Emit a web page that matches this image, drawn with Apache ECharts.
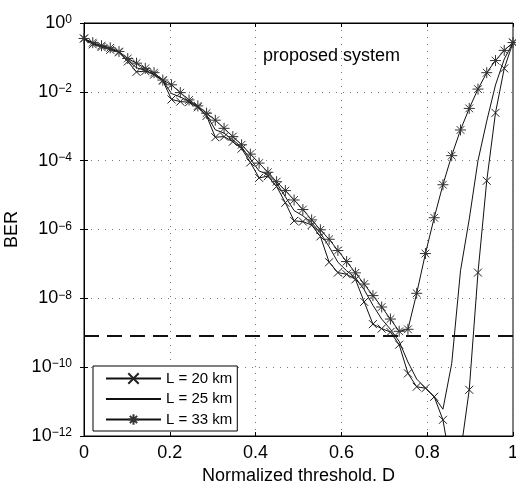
<!DOCTYPE html>
<html><head><meta charset="utf-8">
<script src="https://cdn.jsdelivr.net/npm/echarts@6/dist/echarts.min.js"></script>
<style>html,body{margin:0;padding:0;background:#fff}#c{width:516px;height:481px}</style>
</head><body><div id="c"></div>
<script>
// Normalized threshold D (50 points from 0 to 1)
const thresholdD = [0, 0.0204, 0.0408, 0.0612, 0.0816, 0.1020, 0.1224, 0.1429, 0.1633, 0.1837,
  0.2041, 0.2245, 0.2449, 0.2653, 0.2857, 0.3061, 0.3265, 0.3469, 0.3673, 0.3878,
  0.4082, 0.4286, 0.4490, 0.4694, 0.4898, 0.5102, 0.5306, 0.5510, 0.5714, 0.5918,
  0.6122, 0.6327, 0.6531, 0.6735, 0.6939, 0.7143, 0.7347, 0.7551, 0.7755, 0.7959,
  0.8163, 0.8367, 0.8571, 0.8776, 0.8980, 0.9184, 0.9388, 0.9592, 0.9796, 1.0];

const ber20 = [3.55e-1, 2.4e-1, 2.0e-1, 1.66e-1, 1.41e-1, 7.6e-2, 3.8e-2, 4.0e-2, 3.16e-2, 2.1e-2,
  6.0e-3, 5.2e-3, 5.0e-3, 3.55e-3, 2.0e-3, 4.8e-4, 5.0e-4, 3.55e-4, 2.24e-4, 8.9e-5,
  3.16e-5, 3.55e-5, 1.78e-5, 6.0e-6, 1.78e-6, 1.7e-6, 1.35e-6, 6.3e-7, 1.12e-7, 5.6e-8,
  5.0e-8, 3.55e-8, 7.9e-9, 1.78e-9, 1.32e-9, 1.05e-9, 4.5e-10, 6.6e-11, 2.7e-11, 2.45e-11,
  1.38e-11, 2.95e-12, 1e-13, 3.16e-13, 2.2e-11, 5.6e-8, 2.6e-5, 2.45e-3, 4.8e-2, 2.7e-1];

const ber25 = [3.55e-1, 2.5e-1, 2.1e-1, 1.78e-1, 1.41e-1, 8.3e-2, 5.0e-2, 4.2e-2, 3.3e-2, 2.1e-2,
  8.9e-3, 7.1e-3, 5.2e-3, 3.7e-3, 2.1e-3, 7.9e-4, 6.3e-4, 4.0e-4, 2.5e-4, 1.12e-4,
  5.0e-5, 4.0e-5, 2.24e-5, 8.9e-6, 3.55e-6, 2.5e-6, 1.58e-6, 7.9e-7, 3.16e-7, 1.12e-7,
  6.3e-8, 4.0e-8, 1.78e-8, 6.3e-9, 2.5e-9, 1.26e-9, 5.6e-10, 1.41e-10, 4.5e-11, 2.5e-11,
  1.38e-11, 6.0e-12, 1.26e-10, 6.3e-8, 2.0e-6, 1.0e-4, 1.41e-3, 1.58e-2, 8.9e-2, 2.7e-1];

const ber33 = [3.55e-1, 2.69e-1, 2.19e-1, 1.9e-1, 1.48e-1, 9.3e-2, 6.8e-2, 4.8e-2, 3.6e-2, 2.2e-2,
  1.6e-2, 9.5e-3, 5.8e-3, 3.9e-3, 2.4e-3, 1.5e-3, 8.7e-4, 5.0e-4, 2.9e-4, 1.55e-4,
  8.5e-5, 4.6e-5, 2.45e-5, 1.35e-5, 7.2e-6, 3.8e-6, 1.9e-6, 9.8e-7, 5.2e-7, 2.45e-7,
  1.17e-7, 5.5e-8, 2.6e-8, 1.2e-8, 5.6e-9, 2.5e-9, 1.1e-9, 1.26e-9, 1.4e-8, 2.0e-7,
  2.2e-6, 2.0e-5, 1.4e-4, 7.8e-4, 3.3e-3, 1.2e-2, 3.6e-2, 8.1e-2, 1.6e-1, 2.7e-1];

const berLimit = 8e-10;
const berLimitD = [0, 1];
const seriesNames = ['L = 20 km', 'L = 25 km', 'L = 33 km'];

const FONT = "'Liberation Sans', Arial, Helvetica, sans-serif";
const pair = (ys) => thresholdD.map((x, i) => [x, ys[i]]);
const xMark = 'path://M0,0 L10,10 M10,0 L0,10';
const starMark = 'path://M5,0 L5,10 M0,5 L10,5 M1.5,1.5 L8.5,8.5 M8.5,1.5 L1.5,8.5';

const chart = echarts.init(document.getElementById('c'), null, {renderer: 'canvas'});
const yFmt = (v) => {
  const e = Math.round(Math.log10(v));
  return '{b|10}{e|' + (e === 0 ? '0' : '\u2212' + (-e)) + '}';
};
const gridLine = {show: true, lineStyle: {color: '#777', width: 1, type: [1, 6]}};
chart.setOption({
  animation: false,
  backgroundColor: '#fff',
  grid: {left: 84, right: 3, top: 23, bottom: 45, show: true, borderColor: '#000', borderWidth: 1,
    backgroundColor: 'transparent', containLabel: false, outerBoundsMode: 'none'},
  legend: {
    data: seriesNames, left: 93, top: 366, orient: 'vertical',
    backgroundColor: '#fff', borderColor: '#000', borderWidth: 1,
    padding: [5, 5, 4, 12], itemWidth: 55, itemHeight: 13, itemGap: 5.5,
    textStyle: {fontSize: 15, color: '#000', fontFamily: FONT}
  },
  graphic: [{type: 'text', left: 263, top: 47, style: {text: 'proposed system', font: '18px ' + FONT, fill: '#000'}}],
  xAxis: [{
    type: 'value', min: 0, max: 1, interval: 0.2, position: 'bottom',
    name: 'Normalized threshold, D', nameLocation: 'middle', nameGap: 26,
    nameTextStyle: {fontSize: 18, color: '#000', fontFamily: FONT},
    axisLine: {show: true, lineStyle: {color: '#000', width: 1}},
    axisTick: {show: true, inside: true, length: 4, lineStyle: {color: '#000'}},
    axisLabel: {fontSize: 18, color: '#000', fontFamily: FONT, margin: 8},
    splitLine: gridLine
  }, {
    type: 'value', min: 0, max: 1, interval: 0.2, position: 'top',
    axisLine: {show: true, lineStyle: {color: '#000', width: 1}},
    axisTick: {show: true, inside: true, length: 4, lineStyle: {color: '#000'}},
    axisLabel: {show: false}, splitLine: {show: false}
  }],
  yAxis: [{
    type: 'log', logBase: 100, min: 1e-12, max: 1, position: 'left',
    name: 'BER', nameLocation: 'middle', nameGap: 54, nameRotate: 90,
    nameTextStyle: {fontSize: 18, color: '#000', fontFamily: FONT},
    axisLine: {show: true, lineStyle: {color: '#000', width: 1}},
    axisTick: {show: true, inside: true, length: 4, lineStyle: {color: '#000'}},
    minorTick: {show: false},
    axisLabel: {
      formatter: yFmt, margin: 12, color: '#000', fontFamily: FONT,
      rich: {
        b: {fontSize: 18, fontFamily: FONT, color: '#000', verticalAlign: 'bottom', lineHeight: 18},
        e: {fontSize: 12, fontFamily: FONT, color: '#000', verticalAlign: 'top', padding: [0, 0, 12, 0], lineHeight: 12}
      }
    },
    splitLine: gridLine
  }, {
    type: 'log', logBase: 100, min: 1e-12, max: 1, position: 'right',
    axisLine: {show: true, lineStyle: {color: '#000', width: 1}},
    axisTick: {show: true, inside: true, length: 4, lineStyle: {color: '#000'}},
    axisLabel: {show: false}, splitLine: {show: false}
  }],
  series: [{
    name: seriesNames[0], type: 'line', data: pair(ber20), clip: true,
    symbol: xMark, symbolSize: 8, showAllSymbol: true,
    lineStyle: {color: '#111', width: 1},
    itemStyle: {color: 'transparent', borderColor: '#222', borderWidth: 1}
  }, {
    name: seriesNames[1], type: 'line', data: pair(ber25), clip: true,
    symbol: xMark, symbolSize: 1, showSymbol: false,
    lineStyle: {color: '#111', width: 1},
    itemStyle: {color: 'transparent', borderColor: 'transparent', borderWidth: 0}
  }, {
    name: seriesNames[2], type: 'line', data: pair(ber33), clip: true,
    symbol: starMark, symbolSize: 11, showAllSymbol: true,
    lineStyle: {color: '#111', width: 1},
    itemStyle: {color: 'transparent', borderColor: '#333', borderWidth: 1}
  }, {
    name: 'limit', type: 'line', data: berLimitD.map(x => [x, berLimit]), symbol: 'none',
    lineStyle: {color: '#111', width: 2, type: [15, 8]}, silent: true, z: 1
  }]
});
</script></body></html>
